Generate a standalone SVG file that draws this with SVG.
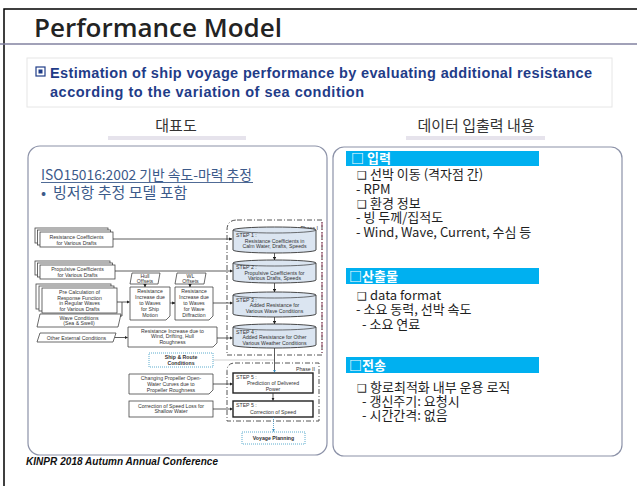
<svg xmlns="http://www.w3.org/2000/svg" width="637" height="486" viewBox="0 0 637 486">
<defs>
  <style>
    .title { font-family: "Open Sans", "Noto Sans", sans-serif; font-weight: 600; font-size: 26px; fill: #232323; }
    .sub { font-family: "Liberation Sans", Arial, sans-serif; font-weight: bold; font-size: 14.5px; fill: #1f3c88; }
    .head { font-family: "Noto Sans CJK KR", "Noto Sans", sans-serif; font-size: 15px; fill: #333; text-anchor: middle; }
    .headbar { fill: #e6e3ec; }
    .panel { fill: #fff; stroke: #8c92a8; stroke-width: 1.2; }
    .lhead { font-family: "Noto Sans CJK KR", "Noto Sans", sans-serif; fill: #3c5a8a; }
    .bar { fill: #00b0f0; }
    .bartxt { font-family: "Noto Sans CJK KR", "Noto Sans", sans-serif; font-weight: bold; font-size: 13px; fill: #fff; }
    .body { font-family: "Noto Sans CJK KR", "Noto Sans", sans-serif; font-size: 13px; fill: #1e1e1e; }
    .chk { font-family: "DejaVu Sans", sans-serif; font-size: 11px; }
    .fc { font-family: "Liberation Sans", Arial, sans-serif; font-size: 5.2px; fill: #333; }
    .c { text-anchor: middle; }
    .b { font-weight: bold; }
    .box { fill: #fff; stroke: #444; stroke-width: 0.8; }
    .cyl { fill: #dbe5f1; stroke: #333; stroke-width: 0.9; }
    .step5 { fill: #fff; stroke: #222; stroke-width: 1.4; }
    .link { fill: none; stroke: #333; stroke-width: 0.8; }
    .phase { fill: none; stroke: #555; stroke-width: 1; stroke-dasharray: 5 2 1 2; }
    .dotbox { fill: #fff; stroke: #4aa3c8; stroke-width: 0.9; stroke-dasharray: 1 1; }
  </style>
  <marker id="ah" viewBox="0 0 6 6" refX="5.5" refY="3" markerWidth="4" markerHeight="4" orient="auto">
    <path d="M0,0 L6,3 L0,6 Z" fill="#222"/>
  </marker>
  <marker id="ahb" viewBox="0 0 6 6" refX="5.5" refY="3" markerWidth="4" markerHeight="4" orient="auto">
    <path d="M0,0 L6,3 L0,6 Z" fill="#3a8fc0"/>
  </marker>
</defs>

<rect width="637" height="486" fill="#fff"/>

<!-- slide frame and title rule -->
<path d="M4,486 V9 H637" fill="none" stroke="#000" stroke-width="1.5"/>
<path d="M0,44 H637" fill="none" stroke="#8282a0" stroke-width="1.5"/>
<text class="title" x="34" y="37">Performance Model</text>

<!-- summary box -->
<g id="summary">
  <rect x="27" y="58" width="585" height="49" fill="#fff" stroke="#e6e6e6" stroke-width="1"/>
  <rect x="36" y="67" width="9" height="9" fill="#fff" stroke="#1f3c88" stroke-width="1.2"/>
  <rect x="38.5" y="69.5" width="4" height="4" fill="#1f3c88"/>
  <text class="sub" x="50" y="78" textLength="542" lengthAdjust="spacing">Estimation of ship voyage performance by evaluating additional resistance</text>
  <text class="sub" x="50" y="97" textLength="314" lengthAdjust="spacing">according to the variation of sea condition</text>
</g>

<!-- column headings -->
<g id="headings">
  <rect class="headbar" x="108" y="136" width="138" height="4"/>
  <rect class="headbar" x="406" y="136" width="139" height="4"/>
  <text class="head" x="176" y="131">대표도</text>
  <text class="head" x="476" y="131">데이터 입출력 내용</text>
</g>

<!-- left panel -->
<g id="left-panel">
  <rect class="panel" x="28" y="146" width="299" height="309" rx="12"/>
  <text class="lhead" x="41" y="180" font-size="13.8">ISO15016:2002 기반 속도-마력 추정</text>
  <path d="M41,182.5 H253" stroke="#3c5a8a" stroke-width="0.9"/>
  <text class="lhead" x="41" y="198" font-size="15">•  <tspan x="53">빙저항 추정 모델 포함</tspan></text>
</g>

<!-- flowchart nodes -->
<g id="phase1">
  <path class="phase" d="M237,220 H322 V355 H227 V230 Q227,220 237,220 Z"/>
  <path d="M322,222 V353" fill="none" stroke="#9a4a68" stroke-width="1" stroke-dasharray="5 2 1 2"/>
  <text class="fc" x="318" y="230" text-anchor="end" font-size="5.6">Phase I</text>
</g>
<g id="phase2">
  <path class="phase" d="M235,363 H319 V421 H227 V371 Q227,363 235,363 Z"/>
  <text class="fc" x="315" y="370.5" text-anchor="end" font-size="6">Phase II</text>
</g>

<g id="res-coef">
  <rect class="box" x="35" y="228" width="73" height="15"/>
  <rect class="box" x="37.5" y="230" width="73" height="15"/>
  <rect class="box" x="40" y="232" width="73" height="15"/>
  <text class="fc c" x="76.5" y="238.5">Resistance Coefficients</text>
  <text class="fc c" x="76.5" y="244.5">for Various Drafts</text>
</g>
<g id="prop-coef">
  <rect class="box" x="35" y="261" width="75" height="14"/>
  <rect class="box" x="37.5" y="263" width="75" height="14"/>
  <rect class="box" x="40" y="265" width="75" height="14"/>
  <text class="fc c" x="77.5" y="270.8">Propulsive Coefficients</text>
  <text class="fc c" x="77.5" y="276.8">for Various Drafts</text>
</g>
<g id="pre-calc">
  <rect class="box" x="36" y="284" width="75" height="25"/>
  <rect class="box" x="39" y="286" width="75" height="25"/>
  <rect class="box" x="42" y="288" width="75" height="25"/>
  <text class="fc c" x="79.5" y="294">Pre Calculation of</text>
  <text class="fc c" x="79.5" y="299.7">Response Function</text>
  <text class="fc c" x="79.5" y="305.4">in Regular Waves</text>
  <text class="fc c" x="79.5" y="311.1">for Various Drafts</text>
</g>
<g id="wave-cond">
  <path class="box" d="M40,314 H121 L118,327 H37 Z"/>
  <text class="fc c" x="79" y="319.5">Wave Conditions</text>
  <text class="fc c" x="79" y="325.3">(Sea &amp; Swell)</text>
</g>
<g id="hull-offsets">
  <path class="box" d="M132,273 H160 L158,284 H130 Z"/>
  <text class="fc c" x="145" y="277.6">Hull</text>
  <text class="fc c" x="145" y="283.2">Offsets</text>
</g>
<g id="wl-offsets">
  <path class="box" d="M177,273 H206 L204,284 H175 Z"/>
  <text class="fc c" x="190.5" y="277.6">WL</text>
  <text class="fc c" x="190.5" y="283.2">Offsets</text>
</g>
<g id="ship-motion">
  <path class="box" d="M130,287 H170 V316 L166,320 H130 Z"/>
  <text class="fc c" x="150" y="293">Resistance</text>
  <text class="fc c" x="150" y="299">Increase due</text>
  <text class="fc c" x="150" y="305">to Waves</text>
  <text class="fc c" x="150" y="311">for Ship</text>
  <text class="fc c" x="150" y="317">Motion</text>
</g>
<g id="diffraction">
  <path class="box" d="M175,287 H213 V316 L209,320 H175 Z"/>
  <text class="fc c" x="194" y="293">Resistance</text>
  <text class="fc c" x="194" y="299">Increase due</text>
  <text class="fc c" x="194" y="305">to Waves</text>
  <text class="fc c" x="194" y="311">for Wave</text>
  <text class="fc c" x="194" y="317">Diffraction</text>
</g>
<g id="other-ext">
  <path class="box" d="M40,333 H116 L113,342 H37 Z"/>
  <text class="fc c" x="76.5" y="339.5">Other External Conditions</text>
</g>
<g id="wind">
  <path class="box" d="M128,327 H217 V343 L213,347 H128 Z"/>
  <text class="fc c" x="172.5" y="332.5">Resistance Increase due to</text>
  <text class="fc c" x="172.5" y="338.3">Wind, Drifting, Hull</text>
  <text class="fc c" x="172.5" y="344.1">Roughness</text>
</g>
<g id="ship-route">
  <rect class="dotbox" x="149" y="353" width="64" height="14"/>
  <text class="fc c b" x="181" y="359" font-size="5.6">Ship &amp; Route</text>
  <text class="fc c b" x="181" y="365.2" font-size="5.6">Conditions</text>
</g>
<g id="propeller">
  <path class="box" d="M129,374 H213 V390 L209,394 H129 Z"/>
  <text class="fc c" x="171" y="380">Changing Propeller Open-</text>
  <text class="fc c" x="171" y="385.8">Water Curves due to</text>
  <text class="fc c" x="171" y="391.6">Propeller Roughness</text>
</g>
<g id="shallow">
  <rect class="box" x="129" y="401" width="84" height="16"/>
  <text class="fc c" x="171" y="407.5">Correction of Speed Loss for</text>
  <text class="fc c" x="171" y="413.4">Shallow Water</text>
</g>

<g id="step1">
  <path class="cyl" d="M233,230 A41.5,3 0 0 1 316,230 V250 A41.5,3 0 0 1 233,250 Z"/>
  <path d="M233,230 A41.5,3 0 0 0 316,230" fill="none" stroke="#333" stroke-width="0.7"/>
  <text class="fc" x="236" y="237">STEP 1 :</text>
  <text class="fc c" x="274.5" y="242.5">Resistance Coefficients in</text>
  <text class="fc c" x="274.5" y="248.2">Calm Water, Drafts, Speeds</text>
</g>
<g id="step2">
  <path class="cyl" d="M233,263 A41.5,3 0 0 1 316,263 V280 A41.5,3 0 0 1 233,280 Z"/>
  <path d="M233,263 A41.5,3 0 0 0 316,263" fill="none" stroke="#333" stroke-width="0.7"/>
  <text class="fc" x="236" y="269.3">STEP 2 :</text>
  <text class="fc c" x="274.5" y="274.8">Propulsive Coefficients for</text>
  <text class="fc c" x="274.5" y="280.4">Various Drafts, Speeds</text>
</g>
<g id="step3">
  <path class="cyl" d="M233,295 A41.5,3 0 0 1 316,295 V314 A41.5,3 0 0 1 233,314 Z"/>
  <path d="M233,295 A41.5,3 0 0 0 316,295" fill="none" stroke="#333" stroke-width="0.7"/>
  <text class="fc" x="236" y="301.7" font-size="5.8">STEP 3 :</text>
  <text class="fc c" x="274.5" y="307.4">Added Resistance for</text>
  <text class="fc c" x="274.5" y="313">Various Wave Conditions</text>
</g>
<g id="step4">
  <path class="cyl" d="M233,327 A41.5,3 0 0 1 316,327 V345 A41.5,3 0 0 1 233,345 Z"/>
  <path d="M233,327 A41.5,3 0 0 0 316,327" fill="none" stroke="#333" stroke-width="0.7"/>
  <text class="fc" x="236" y="333.7" font-size="5.8">STEP 4 :</text>
  <text class="fc c" x="274.5" y="339.4">Added Resistance for Other</text>
  <text class="fc c" x="274.5" y="345">Various Weather Conditions</text>
</g>
<g id="step5-power">
  <rect class="step5" x="233" y="373" width="80" height="20"/>
  <text class="fc" x="236" y="379.3">STEP 5 :</text>
  <text class="fc c" x="273" y="385">Prediction of Delivered</text>
  <text class="fc c" x="273" y="390.7">Power</text>
</g>
<g id="step5-speed">
  <rect class="step5" x="233" y="401" width="80" height="16"/>
  <text class="fc" x="236" y="407">STEP 5 :</text>
  <text class="fc c" x="273" y="413.6">Correction of Speed</text>
</g>
<g id="voyage">
  <rect class="dotbox" x="242" y="432" width="63" height="12"/>
  <text class="fc c b" x="273.5" y="440" font-size="5.8">Voyage Planning</text>
</g>

<!-- flowchart connectors -->
<g id="connectors">
  <path class="link" d="M113,239 H232" marker-end="url(#ah)"/>
  <path class="link" d="M115,271 H232.5" marker-end="url(#ah)"/>
  <path class="link" d="M117,302 H129.5"  marker-end="url(#ah)"/>
  <path class="link" d="M122,302 V316 H120"/>
  <path class="link" d="M145,284 V287" marker-end="url(#ah)"/>
  <path class="link" d="M190,284 V287" marker-end="url(#ah)"/>
  <path class="link" d="M170,303 H175" marker-end="url(#ah)"/>
  <path class="link" d="M213,303 H232.5" marker-end="url(#ah)"/>
  <path class="link" d="M115,337.5 H127.5" marker-end="url(#ah)"/>
  <path class="link" d="M217,338 H232.5" marker-end="url(#ah)"/>
  <path class="link" d="M274.5,253 V260" marker-end="url(#ah)"/>
  <path class="link" d="M274.5,283 V292" marker-end="url(#ah)"/>
  <path class="link" d="M274.5,317 V324" marker-end="url(#ah)"/>
  <path d="M213,360 H274.5" fill="none" stroke="#c4c4c4" stroke-width="0.8"/>
  <path class="link" d="M274.5,348 V372.5" stroke="#4b7fa8" marker-end="url(#ahb)"/>
  <path class="link" d="M213,384 H232.5" marker-end="url(#ah)"/>
  <path class="link" d="M213,409 H232.5" marker-end="url(#ah)"/>
  <path class="link" d="M273,393 V400.5" marker-end="url(#ah)"/>
  <path d="M273.5,417 V431.5" fill="none" stroke="#3a8fc0" stroke-width="0.8" stroke-dasharray="1 1" marker-end="url(#ahb)"/>
</g>

<!-- right panel -->
<g id="right-panel">
  <rect class="panel" x="333" y="147" width="289" height="309" rx="11"/>
  <g id="input">
    <rect class="bar" x="346" y="151" width="193" height="15"/>
    <text class="bartxt" x="351" y="163">□ 입력</text>
    <text class="body" x="357" y="179"><tspan class="chk">❑</tspan><tspan x="370">선박 이동 (격자점 간)</tspan></text>
    <text class="body" x="356" y="194">- RPM</text>
    <text class="body" x="357" y="208"><tspan class="chk">❑</tspan><tspan x="370">환경 정보</tspan></text>
    <text class="body" x="356" y="222">- 빙 두께/집적도</text>
    <text class="body" x="356" y="237">- Wind, Wave, Current, 수심 등</text>
  </g>
  <g id="output">
    <rect class="bar" x="346" y="268" width="193" height="16"/>
    <text class="bartxt" x="349" y="281">□산출물</text>
    <text class="body" x="357" y="300"><tspan class="chk">❑</tspan><tspan x="370">data format</tspan></text>
    <text class="body" x="356" y="314">- 소요 동력, 선박 속도</text>
    <text class="body" x="362" y="329">- 소요 연료</text>
  </g>
  <g id="transfer">
    <rect class="bar" x="346" y="357" width="193" height="16"/>
    <text class="bartxt" x="349" y="370">□전송</text>
    <text class="body" x="357" y="392"><tspan class="chk">❑</tspan><tspan x="370">항로최적화 내부 운용 로직</tspan></text>
    <text class="body" x="362" y="406">- 갱신주기: 요청시</text>
    <text class="body" x="362" y="420">- 시간간격: 없음</text>
  </g>
</g>

<!-- footer -->
<text x="26" y="465" font-family="Liberation Sans, Arial, sans-serif" font-weight="bold" font-style="italic" font-size="10" fill="#111" textLength="192" lengthAdjust="spacing">KINPR 2018 Autumn Annual Conference</text>
</svg>
